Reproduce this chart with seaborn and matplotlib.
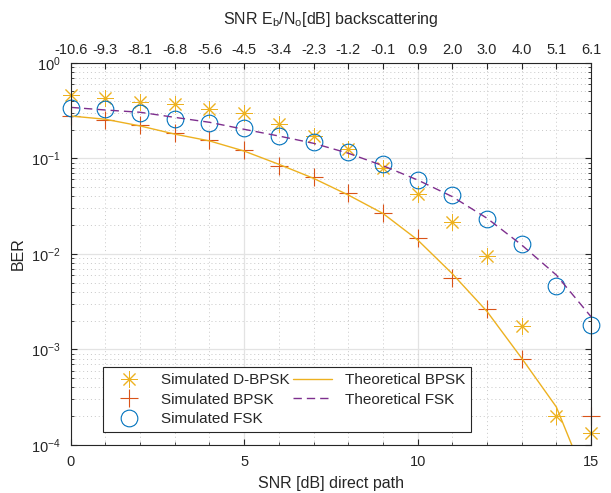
import numpy as np
import pandas as pd
import matplotlib
matplotlib.use('Agg')
import matplotlib.pyplot as plt
from matplotlib.ticker import FixedLocator, LogLocator, NullFormatter
import seaborn as sns

# ── data ─────────────────────────────────────────────────────
snr_direct = list(range(16))
snr_backscatter = ['-10.6', '-9.3', '-8.1', '-6.8', '-5.6', '-4.5', '-3.4', '-2.3',
                   '-1.2', '-0.1', '0.9', '2.0', '3.0', '4.0', '5.1', '6.1']

ber_dbpsk = [0.455, 0.425, 0.39, 0.37, 0.33, 0.295, 0.23, 0.173,
             0.125, 0.079, 0.0425, 0.0217, 0.0094, 0.00176, 0.000201, 0.000135]
ber_bpsk = [0.278, 0.251, 0.223, 0.183, 0.155, 0.122, 0.083, 0.063,
            0.0437, 0.0266, 0.0146, 0.0056, 0.00263, 0.00079, np.nan, 0.0002]
ber_fsk = [0.333, 0.327, 0.300, 0.258, 0.232, 0.205, 0.173, 0.149,
           0.116, 0.087, 0.0593, 0.0413, 0.023, 0.0127, 0.0046, 0.00182]

theo_bpsk = [0.277, 0.256, 0.218, 0.179, 0.152, 0.119, 0.0865, 0.0617,
             0.0413, 0.0265, 0.014, 0.0062, 0.0025, 0.00081, 0.00025, 3.2e-5]
theo_fsk = [0.341, 0.32, 0.303, 0.268, 0.238, 0.201, 0.171, 0.1435,
            0.113, 0.0837, 0.0593, 0.0397, 0.0236, 0.0124, 0.006, 0.0022]

df = pd.DataFrame({'snr': snr_direct, 'dbpsk': ber_dbpsk, 'bpsk': ber_bpsk,
                   'fsk': ber_fsk, 'theo_bpsk': theo_bpsk, 'theo_fsk': theo_fsk})

# ── style ────────────────────────────────────────────────────
sns.set_style('ticks')
plt.rcParams['font.family'] = ['Liberation Sans', 'DejaVu Sans']
plt.rcParams['mathtext.default'] = 'regular'
plt.rcParams['font.size'] = 10.5

c_yel, c_red, c_blue, c_pur = '#EDB120', '#D95319', '#0072BD', '#7E2F8E'
ms = 12

fig = plt.figure(figsize=(6.11, 4.93), dpi=100)
ax = fig.add_axes([0.1157, 0.0974, 0.9673 - 0.1157, 0.8728 - 0.0974])

sns.lineplot(data=df, x='snr', y='dbpsk', ax=ax, color=c_yel, linestyle='none',
             marker=(8, 2, 0), markersize=ms, markeredgecolor=c_yel,
             markeredgewidth=0.7, clip_on=False, label='Simulated D-BPSK')
sns.lineplot(data=df, x='snr', y='bpsk', ax=ax, color=c_red, linestyle='none',
             marker='+', markersize=ms + 1, markeredgecolor=c_red,
             markeredgewidth=0.8, clip_on=False, label='Simulated BPSK')
sns.lineplot(data=df, x='snr', y='fsk', ax=ax, color=c_blue, linestyle='none',
             marker='o', markersize=ms, markerfacecolor='none',
             markeredgecolor=c_blue, markeredgewidth=0.8, clip_on=False,
             label='Simulated FSK')
sns.lineplot(data=df, x='snr', y='theo_bpsk', ax=ax, color=c_yel, linewidth=1.0,
             label='Theoretical BPSK')
sns.lineplot(data=df, x='snr', y='theo_fsk', ax=ax, color=c_pur, linewidth=1.0,
             dashes=False, label='Theoretical FSK')
ax.lines[-1].set_dashes((6, 3.6))

ax.set_yscale('log')
ax.set_xlim(0, 15)
ax.set_ylim(1e-4, 1)

ax.xaxis.set_major_locator(FixedLocator([0, 5, 10, 15]))
ax.xaxis.set_minor_locator(FixedLocator(snr_direct))
ax.yaxis.set_major_locator(LogLocator(base=10, numticks=10))
ax.yaxis.set_minor_locator(LogLocator(base=10, subs=np.arange(2, 10), numticks=20))
ax.yaxis.set_minor_formatter(NullFormatter())

ax.grid(True, which='major', color='#e3e3e3', linestyle='-', linewidth=0.9)
ax.grid(True, which='minor', color='#c8c8c8', linestyle=(0, (1, 3)), linewidth=0.7)
ax.set_axisbelow(True)

for side in ['top', 'right', 'bottom', 'left']:
    ax.spines[side].set_visible(True)
    ax.spines[side].set_color('#262626')
    ax.spines[side].set_linewidth(0.8)
ax.tick_params(which='both', direction='in', right=True, colors='#262626',
               labelcolor='#262626')
ax.tick_params(which='major', length=4, pad=7)
ax.tick_params(which='minor', length=2.5)
ax.tick_params(axis='x', which='minor', bottom=True, length=2.5)

ax.set_xlabel('SNR [dB] direct path', fontsize=11.5, labelpad=5)
ax.set_ylabel('BER', fontsize=11.5, labelpad=4)

# top axis: backscattering Eb/No
ax2 = ax.twiny()
ax2.set_xlim(ax.get_xlim())
ax2.set_xticks(snr_direct)
ax2.set_xticklabels(snr_backscatter)
ax2.tick_params(direction='in', length=4, pad=4, colors='#262626')
ax2.set_xlabel('SNR E$_b$/N$_o$[dB] backscattering', fontsize=11.5, labelpad=14)
for side in ax2.spines:
    ax2.spines[side].set_visible(False)

handles, labels = ax.get_legend_handles_labels()
leg = ax.legend(handles, labels, ncol=2, loc='lower left',
                bbox_to_anchor=(0.062, 0.034), borderaxespad=0,
                fancybox=False, framealpha=1,
                edgecolor='#262626', fontsize=11, borderpad=0.4,
                handlelength=2.6, columnspacing=0.2, labelspacing=0.35,
                handletextpad=0.8)
leg.get_frame().set_linewidth(0.8)

fig.savefig('out.png', dpi=100)
